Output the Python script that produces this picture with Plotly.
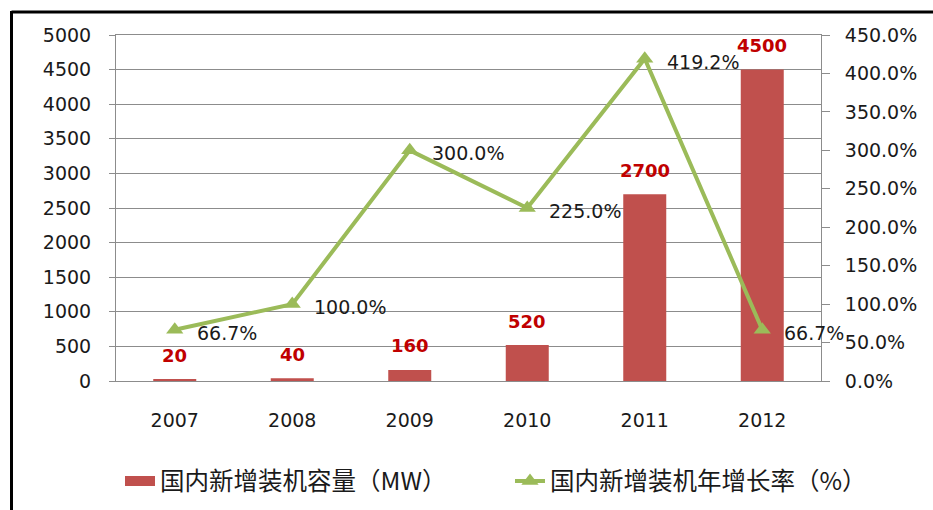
import plotly.graph_objects as go

years = ["2007", "2008", "2009", "2010", "2011", "2012"]
capacity_mw = [20, 40, 160, 520, 2700, 4500]
growth_pct = [66.7, 100.0, 300.0, 225.0, 419.2, 66.7]
bar_name = "国内新增装机容量（MW）"
line_name = "国内新增装机年增长率（%）"

BAR_COLOR = "#C0504D"
LINE_COLOR = "#9BBB59"
LABEL_RED = "#C00000"
GRID = "#8C8C8C"
TXT = "#1A1A1A"
NUM_FONT = "DejaVu Sans"
CJK_FONT = "Noto Sans CJK SC"

xs = [int(y) for y in years]

fig = go.Figure()
fig.add_trace(go.Bar(
    x=xs, y=capacity_mw, name=bar_name, marker=dict(color=BAR_COLOR, line=dict(width=0)),
    yaxis="y", hoverinfo="skip", showlegend=False, legendgroup="bar",
))
# legend entry for the bars, drawn as a wide swatch like the reference
fig.add_trace(go.Scatter(
    x=[None], y=[None], name=bar_name, mode="lines", legendgroup="bar",
    line=dict(color=BAR_COLOR, width=10), hoverinfo="skip",
))
fig.add_trace(go.Scatter(
    x=xs, y=growth_pct, name=line_name, mode="lines+markers", yaxis="y2",
    line=dict(color=LINE_COLOR, width=4),
    marker=dict(symbol="triangle-up", size=15, color=LINE_COLOR),
    hoverinfo="skip",
))

annotations = []
for x, v in zip(xs, capacity_mw):
    annotations.append(dict(
        x=x, y=v, xref="x", yref="y", text=f"<b>{v}</b>", showarrow=False,
        yshift=24, yanchor="middle",
        font=dict(family=NUM_FONT, size=18, color=LABEL_RED),
    ))
for x, v in zip(xs, growth_pct):
    annotations.append(dict(
        x=x, y=v, xref="x", yref="y2", text=f"{v:.1f}%", showarrow=False,
        xanchor="left", xshift=20, yshift=-3, yanchor="middle",
        font=dict(family=NUM_FONT, size=19, color=TXT),
    ))

L, R, T, B = 116, 821, 35, 381
W, H = 933, 510
pw, ph = R - L, B - T

def px_x(p):
    return (p - L) / pw

def px_y(p):
    return (B - p) / ph

shapes = [
    dict(type="line", xref="paper", yref="paper", x0=px_x(11.5), x1=px_x(940),
         y0=px_y(12), y1=px_y(12), line=dict(color="black", width=3)),
    dict(type="line", xref="paper", yref="paper", x0=px_x(11.5), x1=px_x(11.5),
         y0=px_y(11), y1=px_y(520), line=dict(color="black", width=3)),
]

fig.update_layout(
    width=W, height=H,
    margin=dict(l=L, r=W - R, t=T, b=H - B, autoexpand=False),
    paper_bgcolor="white", plot_bgcolor="white",
    bargap=0.634,
    showlegend=True,
    legend=dict(
        orientation="h", x=px_x(115), xanchor="left", y=px_y(481), yanchor="middle",
        font=dict(family=CJK_FONT, size=24.5, color=TXT),
        entrywidth=340, entrywidthmode="pixels", indentation=5,
        traceorder="normal",
    ),
    xaxis=dict(
        type="linear", range=[xs[0] - 0.5, xs[-1] + 0.5],
        tickvals=xs, ticktext=years,
        showline=True, linecolor=GRID, linewidth=1, mirror=True,
        ticks="", showgrid=False, zeroline=False, ticklabelstandoff=22,
        tickfont=dict(family=NUM_FONT, size=19, color=TXT),
    ),
    yaxis=dict(
        range=[0, 5000], dtick=500, showgrid=True, gridcolor=GRID, gridwidth=1,
        showline=True, linecolor=GRID, linewidth=1, ticks="outside", ticklen=6,
        tickcolor=GRID, ticklabelstandoff=14, zeroline=False,
        tickfont=dict(family=NUM_FONT, size=19, color=TXT),
    ),
    yaxis2=dict(
        range=[0, 450], dtick=50, overlaying="y", side="right", showgrid=False,
        showline=True, linecolor=GRID, linewidth=1, ticks="outside", ticklen=8,
        tickcolor=GRID, tickformat=".1f", ticksuffix="%", ticklabelstandoff=11,
        zeroline=False,
        tickfont=dict(family=NUM_FONT, size=19, color=TXT),
    ),
    annotations=annotations,
    shapes=shapes,
)

fig.write_html("out.html", config={"displayModeBar": False},
               post_script="document.body.style.margin='0';")
